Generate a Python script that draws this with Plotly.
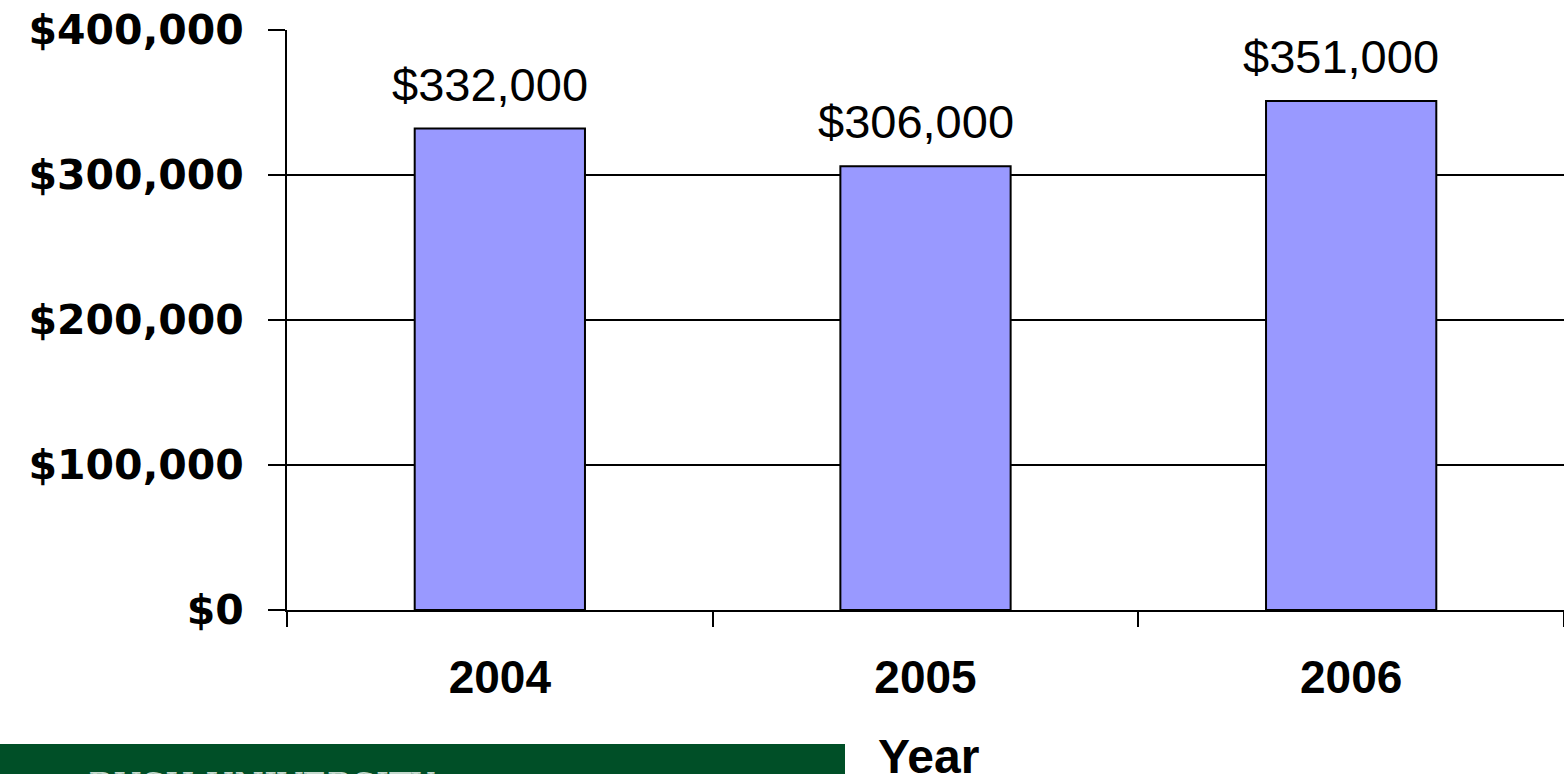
import plotly.graph_objects as go

years = ["2004", "2005", "2006"]
values = [332000, 306000, 351000]
labels = ["$332,000", "$306,000", "$351,000"]
y_ticks = [0, 100000, 200000, 300000, 400000]
y_tick_text = ["$0", "$100,000", "$200,000", "$300,000", "$400,000"]
x_title = "Year"
banner_text = "■     BUSH UNIVERSITY"

fig = go.Figure()
fig.add_trace(go.Bar(
    x=years, y=values, width=0.4,
    marker=dict(color="#9999FF", line=dict(color="black", width=2)),
    showlegend=False, hoverinfo="skip",
))

for i, (v, lab) in enumerate(zip(values, labels)):
    fig.add_annotation(
        x=i, y=v, xref="x", yref="y", text=lab, showarrow=False,
        xanchor="center", yanchor="bottom",
        yshift=16, xshift=-10,
        font=dict(family="Liberation Sans, Arial", size=47, color="black"),
    )

fig.update_layout(
    width=1564, height=774,
    margin=dict(l=287, r=0, t=30, b=164),
    paper_bgcolor="white", plot_bgcolor="white",
    xaxis=dict(
        type="category", range=[-0.5, 2.5], automargin=False,
        showline=True, linecolor="black", linewidth=2,
        ticks="outside", tickson="boundaries", ticklen=15, tickwidth=2, tickcolor="black",
        tickfont=dict(family="Liberation Sans, Arial", size=46, color="black", weight="bold"),
        ticklabelstandoff=26,
        showgrid=False,
    ),
    yaxis=dict(
        range=[0, 400000], tickvals=y_ticks, ticktext=y_tick_text, automargin=False,
        showline=True, linecolor="black", linewidth=2,
        showgrid=True, gridcolor="black", gridwidth=2,
        zeroline=False,
        ticks="outside", ticklen=17, tickwidth=2, tickcolor="black",
        tickfont=dict(family="DejaVu Sans, Verdana", size=41, color="black", weight="bold"),
        ticklabelstandoff=16,
    ),
)

# x-axis title
fig.add_annotation(xref="paper", yref="paper",
                   x=(928 - 287) / 1277, y=(610 - 757) / 580,
                   xanchor="center", yanchor="middle", showarrow=False,
                   text=x_title,
                   font=dict(family="Liberation Sans, Arial", size=48, color="black", weight="bold"))

fig.add_shape(type="rect", xref="paper", yref="paper",
              x0=(0 - 287) / 1277, x1=(845 - 287) / 1277,
              y0=(610 - 800) / 580, y1=(610 - 744) / 580,
              fillcolor="#004F27", line=dict(width=0), layer="above")
fig.add_annotation(xref="paper", yref="paper",
                   x=(0 - 287) / 1277, y=(610 - 763) / 580,
                   xanchor="left", yanchor="top", showarrow=False,
                   text=banner_text,
                   font=dict(family="DejaVu Serif", size=34, color="#C5D9CE"))

fig.write_html("out.html")
